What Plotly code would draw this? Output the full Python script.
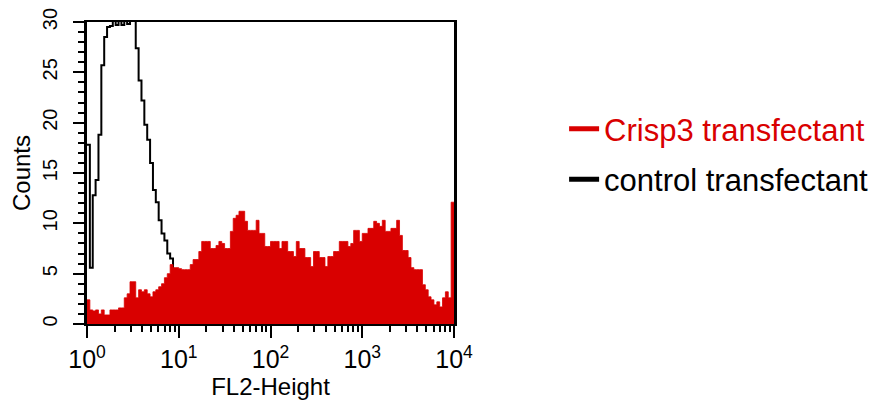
import numpy as np
import plotly.graph_objects as go

# ---- data (FL2-Height histogram, 128 channels over 4 decades) ----
n_channels = 128
decades = 4
channel_edges = 10 ** (np.arange(n_channels + 1) * decades / n_channels)

crisp3_counts = [
    2.4, 1.4, 1.3, 1.4, 1.0, 1.4, 0.9, 0.9, 1.4, 1.4,
    1.4, 1.6, 1.6, 2.6, 3.0, 4.2, 4.2, 2.6, 3.4, 3.2,
    3.4, 3.0, 2.7, 3.2, 3.4, 3.7, 4.0, 4.6, 5.0, 5.9,
    5.6, 5.6, 5.5, 5.4, 5.4, 5.4, 5.9, 6.4, 6.4, 7.2,
    8.2, 8.2, 8.2, 7.5, 7.5, 7.8, 8.2, 8.0, 7.5, 7.5,
    9.2, 10.5, 10.8, 11.2, 11.2, 10.2, 9.3, 9.3, 9.3, 10.3,
    9.0, 9.0, 7.7, 7.7, 8.2, 8.2, 8.2, 7.5, 8.2, 8.2,
    7.2, 7.2, 6.7, 8.2, 7.5, 7.5, 6.6, 6.6, 5.7, 7.2,
    7.2, 6.6, 6.6, 5.7, 6.7, 6.7, 7.2, 7.2, 8.2, 8.2,
    8.2, 7.7, 8.0, 9.3, 9.3, 8.2, 9.0, 9.0, 9.5, 9.5,
    10.2, 10.0, 9.7, 10.3, 9.2, 9.2, 9.5, 9.5, 10.3, 8.8,
    7.3, 7.3, 6.6, 5.6, 5.4, 5.4, 5.4, 3.9, 3.4, 2.7,
    2.4, 1.9, 2.2, 1.7, 2.6, 3.2, 2.6, 12.1,
]

control_counts = [
    17.8, 5.6, 12.8, 14.3, 18.8, 25.7, 28.5, 29.5, 29.6, 30.5,
    29.7, 31.0, 29.7, 31.0, 29.8, 31.0, 30.2, 27.4, 24.2, 22.2,
    19.8, 18.3, 16.0, 13.3, 12.1, 10.3, 9.0, 8.3, 7.0, 6.5,
    5.0, 4.0, 3.2, 2.5, 2.0, 1.5, 1.0, 0.8, 0.5, 0.3,
    0.2, 0.1, 0.0, 0.0, 0.0, 0.0, 0.0, 0.0,
]

series_names = ["Crisp3 transfectant", "control transfectant"]
x_tick_values = [1, 10, 100, 1000, 10000]
x_tick_labels = ["10<sup>0</sup>", "10<sup>1</sup>", "10<sup>2</sup>", "10<sup>3</sup>", "10<sup>4</sup>"]
y_tick_values = [0, 5, 10, 15, 20, 25, 30]

RED = "#d90000"
SANS = "Liberation Sans, Arial, Helvetica, sans-serif"

x_minor = [m * 10 ** d for d in range(decades) for m in range(2, 10)]

fig = go.Figure()

ctrl_x = channel_edges[: len(control_counts) + 1]
ctrl_y = control_counts + [control_counts[-1]]
fig.add_trace(go.Scatter(
    x=ctrl_x, y=ctrl_y, mode="lines",
    line=dict(color="black", width=2, shape="hv"),
    showlegend=False, hoverinfo="skip",
))

fig.add_trace(go.Scatter(
    x=channel_edges, y=crisp3_counts + [crisp3_counts[-1]], mode="lines",
    line=dict(color=RED, width=0.8, shape="hv"),
    fill="tozeroy", fillcolor=RED,
    showlegend=False, hoverinfo="skip",
))

# legend entries
fig.add_trace(go.Scatter(
    x=[None], y=[None], mode="lines", name=series_names[0],
    line=dict(color=RED, width=5), legend="legend",
))
fig.add_trace(go.Scatter(
    x=[None], y=[None], mode="lines", name=series_names[1],
    line=dict(color="black", width=5), legend="legend2",
))

# page body has an 8px default margin: size the figure to fit the window
fig.update_layout(
    width=887, height=397,
    margin=dict(l=79, r=441, t=14, b=81, pad=0),
    paper_bgcolor="white", plot_bgcolor="white",
    legend=dict(x=1.30, xanchor="left", y=0.645, yanchor="middle",
                font=dict(family=SANS, size=31, color=RED),
                bgcolor="rgba(0,0,0,0)"),
    legend2=dict(x=1.30, xanchor="left", y=0.478, yanchor="middle",
                 font=dict(family=SANS, size=31, color="black"),
                 bgcolor="rgba(0,0,0,0)"),
)

fig.update_xaxes(
    type="log", range=[0, decades], automargin=False,
    showline=True, linecolor="black", linewidth=2, mirror=True,
    showgrid=False, zeroline=False,
    ticks="outside", ticklen=12, tickwidth=2, tickcolor="black",
    tickmode="array", tickvals=x_tick_values, ticktext=x_tick_labels,
    tickfont=dict(family=SANS, size=25, color="black"),
    ticklabeloverflow="allow",
    minor=dict(ticks="outside", ticklen=6, tickwidth=1.5, tickcolor="black",
               tickmode="array", tickvals=x_minor, showgrid=False),
    title=dict(text="FL2-Height", font=dict(family=SANS, size=24, color="black"), standoff=0),
)

fig.update_yaxes(
    range=[0, 30], automargin=False,
    showline=True, linecolor="black", linewidth=2.5, mirror=True,
    showgrid=False, zeroline=False,
    ticks="outside", ticklen=11, tickwidth=2, tickcolor="black",
    tickmode="array", tickvals=y_tick_values, tickangle=-90,
    ticklabelstandoff=8, ticklabeloverflow="allow",
    tickfont=dict(family=SANS, size=20, color="black"),
    minor=dict(ticks="outside", ticklen=6, tickwidth=1.5, tickcolor="black",
               dtick=1, showgrid=False),
    title=dict(text="Counts", font=dict(family=SANS, size=24, color="black"), standoff=4),
)

fig.write_html("out.html")
